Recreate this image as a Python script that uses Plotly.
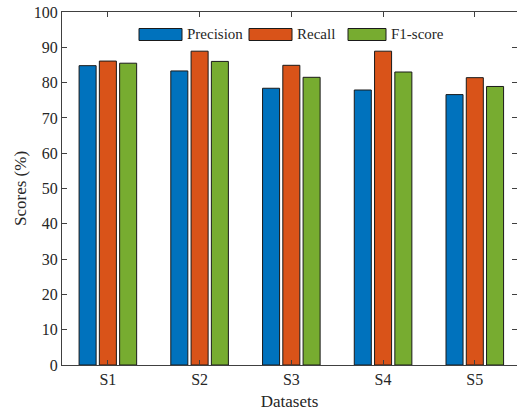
import plotly.graph_objects as go

datasets = ["S1", "S2", "S3", "S4", "S5"]
precision = [84.8, 83.3, 78.4, 77.9, 76.6]
recall = [86.1, 88.9, 84.9, 88.9, 81.4]
f1_score = [85.5, 86.0, 81.5, 83.0, 78.9]
series_names = ["Precision", "Recall", "F1-score"]
colors = ["#0072BD", "#D95319", "#77AC30"]
y_ticks = list(range(0, 101, 10))

W, H = 517, 411
ML, MR, MT, MB = 62, 0, 12, 46
PW, PH = W - ML - MR, H - MT - MB

xpos = list(range(1, len(datasets) + 1))
fig = go.Figure()
for name, vals, col in zip(series_names, [precision, recall, f1_score], colors):
    fig.add_trace(go.Bar(
        x=xpos, y=vals, name=name,
        marker=dict(color=col, line=dict(color="#1a1a1a", width=1)),
        showlegend=False,
    ))

font_family = "Liberation Serif, Times New Roman, serif"
axis_col = "#404040"
fig.update_layout(
    width=W, height=H,
    margin=dict(l=ML, r=MR, t=MT, b=MB, pad=0),
    paper_bgcolor="white", plot_bgcolor="white",
    barmode="group", bargap=0.337, bargroupgap=0.16,
    font=dict(family=font_family, size=16, color="#262626"),
    xaxis=dict(
        tickmode="array", tickvals=xpos, ticktext=datasets,
        range=[0.5, 5.46], showgrid=False, zeroline=False, automargin=False,
        showline=True, linecolor=axis_col, linewidth=1.2, mirror="ticks",
        ticks="inside", ticklen=5, tickcolor=axis_col,
        title=dict(text="Datasets", font=dict(size=17), standoff=8),
    ),
    yaxis=dict(
        tickmode="array", tickvals=y_ticks, range=[0, 100],
        showgrid=False, zeroline=False, automargin=False,
        showline=True, linecolor=axis_col, linewidth=1.2, mirror="ticks",
        ticks="inside", ticklen=5, tickcolor=axis_col,
        title=dict(text="Scores (%)", font=dict(size=17), standoff=2),
    ),
)

# manual legend with wide rectangle keys (layout decoration)
def px_x(p):
    return (p - ML) / PW

def px_y(p):
    return 1 - (p - MT) / PH

legend_items = [(139, 182, 185), (249, 292, 295), (348, 386, 389)]
for (x0, x1, tx), name, col in zip(legend_items, series_names, colors):
    fig.add_shape(type="rect", xref="paper", yref="paper",
                  x0=px_x(x0), x1=px_x(x1), y0=px_y(40.5), y1=px_y(28.5),
                  fillcolor=col, line=dict(color="#1a1a1a", width=1))
    fig.add_annotation(xref="paper", yref="paper", x=px_x(tx), y=px_y(34.5),
                       text=name, showarrow=False, xanchor="left", yanchor="middle",
                       font=dict(size=15, family=font_family, color="#262626"))

fig.write_html("out.html", config={"displayModeBar": False},
               post_script="document.body.style.margin='0';document.body.style.padding='0';")
